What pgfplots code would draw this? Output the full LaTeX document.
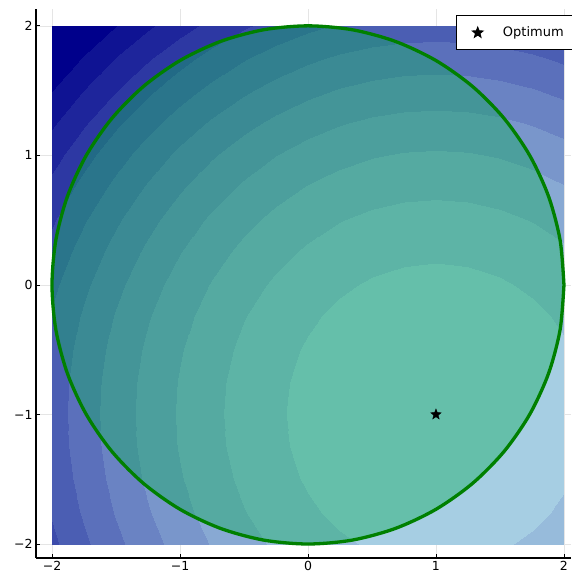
\documentclass[border=0pt]{standalone}
\usepackage{fontspec}
\setmainfont{DejaVu Sans}
\usepackage{pgfplots}
\usepackage{pgfplotstable}
\pgfplotsset{compat=1.18}

\definecolor{circfill}{RGB}{20,172,99}
\definecolor{circline}{RGB}{0,128,0}

\pgfdeclareplotmark{fstar}{%
  \pgfpathmoveto{\pgfpointpolar{90}{\pgfplotmarksize}}%
  \pgfpathlineto{\pgfpointpolar{126}{0.42\pgfplotmarksize}}%
  \pgfpathlineto{\pgfpointpolar{162}{\pgfplotmarksize}}%
  \pgfpathlineto{\pgfpointpolar{198}{0.42\pgfplotmarksize}}%
  \pgfpathlineto{\pgfpointpolar{234}{\pgfplotmarksize}}%
  \pgfpathlineto{\pgfpointpolar{270}{0.42\pgfplotmarksize}}%
  \pgfpathlineto{\pgfpointpolar{306}{\pgfplotmarksize}}%
  \pgfpathlineto{\pgfpointpolar{342}{0.42\pgfplotmarksize}}%
  \pgfpathlineto{\pgfpointpolar{18}{\pgfplotmarksize}}%
  \pgfpathlineto{\pgfpointpolar{54}{0.42\pgfplotmarksize}}%
  \pgfpathclose
  \pgfusepathqfillstroke}

\pgfplotstableread[row sep=\\]{
x y z\\
-2 -2 10\\ -1.75 -2 8.5625\\ -1.5 -2 7.25\\ -1.25 -2 6.0625\\ -1 -2 5\\ -0.75 -2 4.0625\\ -0.5 -2 3.25\\ -0.25 -2 2.5625\\ 0 -2 2\\ 0.25 -2 1.5625\\ 0.5 -2 1.25\\ 0.75 -2 1.0625\\ 1 -2 1\\ 1.25 -2 1.0625\\ 1.5 -2 1.25\\ 1.75 -2 1.5625\\ 2 -2 2\\
-2 -1.75 9.5625\\ -1.75 -1.75 8.125\\ -1.5 -1.75 6.8125\\ -1.25 -1.75 5.625\\ -1 -1.75 4.5625\\ -0.75 -1.75 3.625\\ -0.5 -1.75 2.8125\\ -0.25 -1.75 2.125\\ 0 -1.75 1.5625\\ 0.25 -1.75 1.125\\ 0.5 -1.75 0.8125\\ 0.75 -1.75 0.625\\ 1 -1.75 0.5625\\ 1.25 -1.75 0.625\\ 1.5 -1.75 0.8125\\ 1.75 -1.75 1.125\\ 2 -1.75 1.5625\\
-2 -1.5 9.25\\ -1.75 -1.5 7.8125\\ -1.5 -1.5 6.5\\ -1.25 -1.5 5.3125\\ -1 -1.5 4.25\\ -0.75 -1.5 3.3125\\ -0.5 -1.5 2.5\\ -0.25 -1.5 1.8125\\ 0 -1.5 1.25\\ 0.25 -1.5 0.8125\\ 0.5 -1.5 0.5\\ 0.75 -1.5 0.3125\\ 1 -1.5 0.25\\ 1.25 -1.5 0.3125\\ 1.5 -1.5 0.5\\ 1.75 -1.5 0.8125\\ 2 -1.5 1.25\\
-2 -1.25 9.0625\\ -1.75 -1.25 7.625\\ -1.5 -1.25 6.3125\\ -1.25 -1.25 5.125\\ -1 -1.25 4.0625\\ -0.75 -1.25 3.125\\ -0.5 -1.25 2.3125\\ -0.25 -1.25 1.625\\ 0 -1.25 1.0625\\ 0.25 -1.25 0.625\\ 0.5 -1.25 0.3125\\ 0.75 -1.25 0.125\\ 1 -1.25 0.0625\\ 1.25 -1.25 0.125\\ 1.5 -1.25 0.3125\\ 1.75 -1.25 0.625\\ 2 -1.25 1.0625\\
-2 -1 9\\ -1.75 -1 7.5625\\ -1.5 -1 6.25\\ -1.25 -1 5.0625\\ -1 -1 4\\ -0.75 -1 3.0625\\ -0.5 -1 2.25\\ -0.25 -1 1.5625\\ 0 -1 1\\ 0.25 -1 0.5625\\ 0.5 -1 0.25\\ 0.75 -1 0.0625\\ 1 -1 0\\ 1.25 -1 0.0625\\ 1.5 -1 0.25\\ 1.75 -1 0.5625\\ 2 -1 1\\
-2 -0.75 9.0625\\ -1.75 -0.75 7.625\\ -1.5 -0.75 6.3125\\ -1.25 -0.75 5.125\\ -1 -0.75 4.0625\\ -0.75 -0.75 3.125\\ -0.5 -0.75 2.3125\\ -0.25 -0.75 1.625\\ 0 -0.75 1.0625\\ 0.25 -0.75 0.625\\ 0.5 -0.75 0.3125\\ 0.75 -0.75 0.125\\ 1 -0.75 0.0625\\ 1.25 -0.75 0.125\\ 1.5 -0.75 0.3125\\ 1.75 -0.75 0.625\\ 2 -0.75 1.0625\\
-2 -0.5 9.25\\ -1.75 -0.5 7.8125\\ -1.5 -0.5 6.5\\ -1.25 -0.5 5.3125\\ -1 -0.5 4.25\\ -0.75 -0.5 3.3125\\ -0.5 -0.5 2.5\\ -0.25 -0.5 1.8125\\ 0 -0.5 1.25\\ 0.25 -0.5 0.8125\\ 0.5 -0.5 0.5\\ 0.75 -0.5 0.3125\\ 1 -0.5 0.25\\ 1.25 -0.5 0.3125\\ 1.5 -0.5 0.5\\ 1.75 -0.5 0.8125\\ 2 -0.5 1.25\\
-2 -0.25 9.5625\\ -1.75 -0.25 8.125\\ -1.5 -0.25 6.8125\\ -1.25 -0.25 5.625\\ -1 -0.25 4.5625\\ -0.75 -0.25 3.625\\ -0.5 -0.25 2.8125\\ -0.25 -0.25 2.125\\ 0 -0.25 1.5625\\ 0.25 -0.25 1.125\\ 0.5 -0.25 0.8125\\ 0.75 -0.25 0.625\\ 1 -0.25 0.5625\\ 1.25 -0.25 0.625\\ 1.5 -0.25 0.8125\\ 1.75 -0.25 1.125\\ 2 -0.25 1.5625\\
-2 0 10\\ -1.75 0 8.5625\\ -1.5 0 7.25\\ -1.25 0 6.0625\\ -1 0 5\\ -0.75 0 4.0625\\ -0.5 0 3.25\\ -0.25 0 2.5625\\ 0 0 2\\ 0.25 0 1.5625\\ 0.5 0 1.25\\ 0.75 0 1.0625\\ 1 0 1\\ 1.25 0 1.0625\\ 1.5 0 1.25\\ 1.75 0 1.5625\\ 2 0 2\\
-2 0.25 10.5625\\ -1.75 0.25 9.125\\ -1.5 0.25 7.8125\\ -1.25 0.25 6.625\\ -1 0.25 5.5625\\ -0.75 0.25 4.625\\ -0.5 0.25 3.8125\\ -0.25 0.25 3.125\\ 0 0.25 2.5625\\ 0.25 0.25 2.125\\ 0.5 0.25 1.8125\\ 0.75 0.25 1.625\\ 1 0.25 1.5625\\ 1.25 0.25 1.625\\ 1.5 0.25 1.8125\\ 1.75 0.25 2.125\\ 2 0.25 2.5625\\
-2 0.5 11.25\\ -1.75 0.5 9.8125\\ -1.5 0.5 8.5\\ -1.25 0.5 7.3125\\ -1 0.5 6.25\\ -0.75 0.5 5.3125\\ -0.5 0.5 4.5\\ -0.25 0.5 3.8125\\ 0 0.5 3.25\\ 0.25 0.5 2.8125\\ 0.5 0.5 2.5\\ 0.75 0.5 2.3125\\ 1 0.5 2.25\\ 1.25 0.5 2.3125\\ 1.5 0.5 2.5\\ 1.75 0.5 2.8125\\ 2 0.5 3.25\\
-2 0.75 12.0625\\ -1.75 0.75 10.625\\ -1.5 0.75 9.3125\\ -1.25 0.75 8.125\\ -1 0.75 7.0625\\ -0.75 0.75 6.125\\ -0.5 0.75 5.3125\\ -0.25 0.75 4.625\\ 0 0.75 4.0625\\ 0.25 0.75 3.625\\ 0.5 0.75 3.3125\\ 0.75 0.75 3.125\\ 1 0.75 3.0625\\ 1.25 0.75 3.125\\ 1.5 0.75 3.3125\\ 1.75 0.75 3.625\\ 2 0.75 4.0625\\
-2 1 13\\ -1.75 1 11.5625\\ -1.5 1 10.25\\ -1.25 1 9.0625\\ -1 1 8\\ -0.75 1 7.0625\\ -0.5 1 6.25\\ -0.25 1 5.5625\\ 0 1 5\\ 0.25 1 4.5625\\ 0.5 1 4.25\\ 0.75 1 4.0625\\ 1 1 4\\ 1.25 1 4.0625\\ 1.5 1 4.25\\ 1.75 1 4.5625\\ 2 1 5\\
-2 1.25 14.0625\\ -1.75 1.25 12.625\\ -1.5 1.25 11.3125\\ -1.25 1.25 10.125\\ -1 1.25 9.0625\\ -0.75 1.25 8.125\\ -0.5 1.25 7.3125\\ -0.25 1.25 6.625\\ 0 1.25 6.0625\\ 0.25 1.25 5.625\\ 0.5 1.25 5.3125\\ 0.75 1.25 5.125\\ 1 1.25 5.0625\\ 1.25 1.25 5.125\\ 1.5 1.25 5.3125\\ 1.75 1.25 5.625\\ 2 1.25 6.0625\\
-2 1.5 15.25\\ -1.75 1.5 13.8125\\ -1.5 1.5 12.5\\ -1.25 1.5 11.3125\\ -1 1.5 10.25\\ -0.75 1.5 9.3125\\ -0.5 1.5 8.5\\ -0.25 1.5 7.8125\\ 0 1.5 7.25\\ 0.25 1.5 6.8125\\ 0.5 1.5 6.5\\ 0.75 1.5 6.3125\\ 1 1.5 6.25\\ 1.25 1.5 6.3125\\ 1.5 1.5 6.5\\ 1.75 1.5 6.8125\\ 2 1.5 7.25\\
-2 1.75 16.5625\\ -1.75 1.75 15.125\\ -1.5 1.75 13.8125\\ -1.25 1.75 12.625\\ -1 1.75 11.5625\\ -0.75 1.75 10.625\\ -0.5 1.75 9.8125\\ -0.25 1.75 9.125\\ 0 1.75 8.5625\\ 0.25 1.75 8.125\\ 0.5 1.75 7.8125\\ 0.75 1.75 7.625\\ 1 1.75 7.5625\\ 1.25 1.75 7.625\\ 1.5 1.75 7.8125\\ 1.75 1.75 8.125\\ 2 1.75 8.5625\\
-2 2 18\\ -1.75 2 16.5625\\ -1.5 2 15.25\\ -1.25 2 14.0625\\ -1 2 13\\ -0.75 2 12.0625\\ -0.5 2 11.25\\ -0.25 2 10.5625\\ 0 2 10\\ 0.25 2 9.5625\\ 0.5 2 9.25\\ 0.75 2 9.0625\\ 1 2 9\\ 1.25 2 9.0625\\ 1.5 2 9.25\\ 1.75 2 9.5625\\ 2 2 10\\
}\gridtable

\begin{document}
\begin{tikzpicture}
\begin{axis}[
  scale only axis, width=535pt, height=549pt,
  xmin=-2.125, xmax=2.055, ymin=-2.108, ymax=2.13,
  axis x line*=bottom, axis y line*=left,
  axis line style={-, line width=1.2pt, black},
  xtick={-2,-1,0,1,2}, xticklabels={−2,−1,0,1,2},
  ytick={-2,-1,0,1,2}, yticklabels={−2,−1,0,1,2},
  tick align=inside, major tick length=4pt,
  tick style={black, line width=0.8pt},
  grid=major, grid style={black!10, line width=0.5pt},
  ticklabel style={font=\fontsize{12.5}{14}\selectfont},
  colormap={bands}{rgb255=(166,206,227) rgb255=(151,187,219) rgb255=(136,169,211)
    rgb255=(121,150,203) rgb255=(106,131,195) rgb255=(91,112,187) rgb255=(75,94,179)
    rgb255=(60,75,171) rgb255=(45,56,163) rgb255=(30,37,155) rgb255=(15,19,147)
    rgb255=(0,0,139) rgb255=(0,0,139)},
  point meta min=0, point meta max=18,
  legend style={at={(0.785,0.989)}, anchor=north west, draw=black, line width=1pt,
    fill=white, inner xsep=16pt, inner ysep=9.5pt,
    font=\fontsize{13}{15}\selectfont,
    /tikz/every odd column/.append style={column sep=18pt}, overlay},
  legend cell align=left,
]
\addplot[surf, shader=interp, colormap access=piecewise constant,
  mesh/rows=17, mesh/cols=17, point meta=\thisrow{z}, forget plot]
  table[x=x, y=y] {\gridtable};

\addplot[forget plot, draw=circline, line width=3.3pt, fill=circfill,
  fill opacity=0.44, draw opacity=1, smooth] coordinates {
(2,0) (1.9696,0.3473) (1.8794,0.6840) (1.7321,1) (1.5321,1.2856) (1.2856,1.5321)
(1,1.7321) (0.6840,1.8794) (0.3473,1.9696) (0,2) (-0.3473,1.9696) (-0.6840,1.8794)
(-1,1.7321) (-1.2856,1.5321) (-1.5321,1.2856) (-1.7321,1) (-1.8794,0.6840) (-1.9696,0.3473)
(-2,0) (-1.9696,-0.3473) (-1.8794,-0.6840) (-1.7321,-1) (-1.5321,-1.2856) (-1.2856,-1.5321)
(-1,-1.7321) (-0.6840,-1.8794) (-0.3473,-1.9696) (0,-2) (0.3473,-1.9696) (0.6840,-1.8794)
(1,-1.7321) (1.2856,-1.5321) (1.5321,-1.2856) (1.7321,-1) (1.8794,-0.6840) (1.9696,-0.3473)
(2,0)};

\addplot[only marks, mark=fstar, mark size=5.5pt, black] coordinates {(1,-1)};
\addlegendentry{Optimum}
\end{axis}
\path (current axis.south west) +(-36pt,-18pt);
\path (current axis.north east) +(0pt,9pt);
\end{tikzpicture}
\end{document}
